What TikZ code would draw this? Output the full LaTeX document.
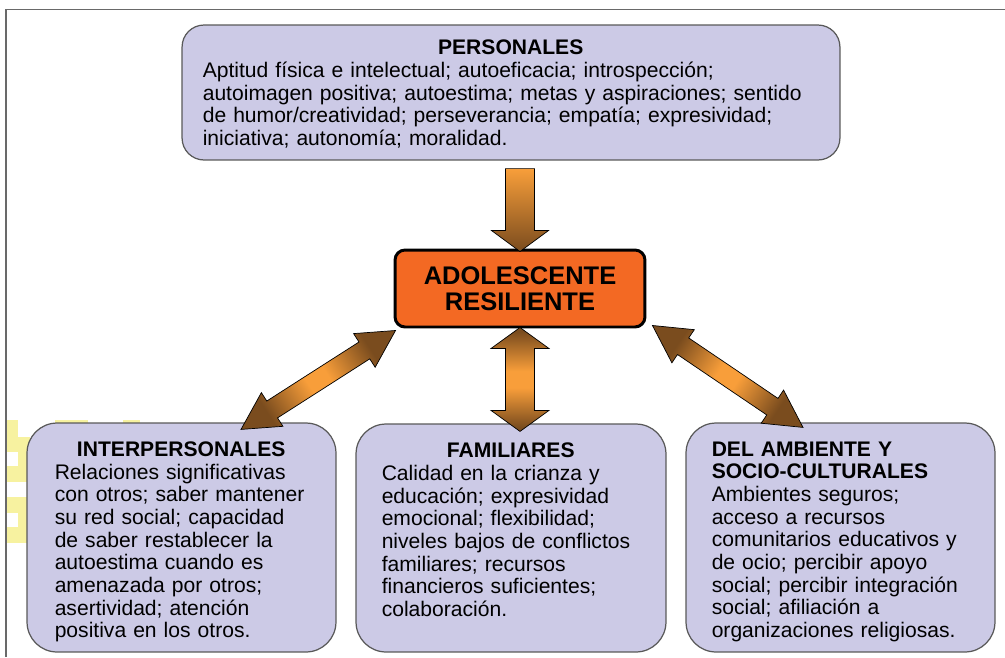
\documentclass[tikz,border=0pt]{standalone}
\usepackage{fontspec}
\setmainfont{Liberation Sans}
\usetikzlibrary{calc,positioning}

\definecolor{lila}{RGB}{204,202,230}
\definecolor{naranja}{RGB}{243,105,35}
\definecolor{flechaclaro}{RGB}{248,158,58}
\definecolor{flechaoscuro}{RGB}{122,76,30}
\definecolor{amarillo}{RGB}{247,242,160}
\definecolor{marco}{RGB}{105,105,105}

% oscuro en las puntas, claro en el medio
\pgfdeclarehorizontalshading{flechasombra}{100bp}{color(0bp)=(flechaoscuro); color(27bp)=(flechaoscuro);
  color(46bp)=(flechaclaro); color(54bp)=(flechaclaro); color(73bp)=(flechaoscuro); color(100bp)=(flechaoscuro)}

% flecha doble: #1,#2 puntas; #3 largo punta; #4 media punta; #5 medio cuerpo; #6 angulo
\newcommand{\flechadoble}[6]{%
  \shade[draw=black, line width=0.4pt, shading=flechasombra, shading angle=#6]
    (#1) -- ($(#1)!#3!(#2)!#4!90:(#2)$) -- ($(#1)!#3!(#2)!#5!90:(#2)$)
    -- ($(#2)!#3!(#1)!#5!270:(#1)$) -- ($(#2)!#3!(#1)!#4!270:(#1)$)
    -- (#2) -- ($(#2)!#3!(#1)!#4!90:(#1)$) -- ($(#2)!#3!(#1)!#5!90:(#1)$)
    -- ($(#1)!#3!(#2)!#5!270:(#2)$) -- ($(#1)!#3!(#2)!#4!270:(#2)$) -- cycle;}

\begin{document}
\begin{tikzpicture}[x=0.02cm, y=-0.02cm,
  caja/.style={draw=black!65, fill=lila, line width=0.7pt},
  texto/.style={anchor=north west, inner sep=0pt, font=\fontsize{12}{12.9}\selectfont},
  centro/.style={draw=black, fill=naranja, line width=1.7pt, rounded corners=0.2cm,
    minimum width=5cm, minimum height=1.54cm, align=center,
    font=\fontsize{14.5}{14.8}\selectfont\bfseries}]
\useasboundingbox (0,0) rectangle (1005,657);

% manchas amarillas del margen
\fill[amarillo] (7,420) rectangle (18,437);
\fill[amarillo] (7,437) rectangle (30,543);
\fill[white] (7,452) rectangle (18,466);
\fill[white] (7,482) rectangle (30,497);
\fill[white] (7,513) rectangle (18,527);
\fill[amarillo] (55,420) rectangle (88,430);
\fill[amarillo] (123,420) rectangle (140,430);

% marco
\draw[marco, line width=1pt] (6,657) -- (6,9.5) -- (1005,9.5);

% cajas
\node[caja, rounded corners=0.44cm, minimum width=13.16cm, minimum height=2.7cm] (personales) at (511,92.5) {};
\node[caja, rounded corners=0.6cm, minimum width=6.18cm, minimum height=4.58cm] (interpersonales) at (181.5,537.5) {};
\node[caja, rounded corners=0.6cm, minimum width=6.2cm, minimum height=4.56cm] (familiares) at (511,538) {};
\node[caja, rounded corners=0.6cm, minimum width=6.18cm, minimum height=4.58cm] (ambiente) at (840.5,537.5) {};

\node[texto, text width=12.32cm] (tpers) at ([shift={(21,15.5)}]personales.north west)
  {{\centering\bfseries PERSONALES\par}\raggedright
   Aptitud física e intelectual; autoeficacia; introspección;\\
   autoimagen positiva; autoestima; metas y aspiraciones; sentido\\
   de humor/creatividad; perseverancia; empatía; expresividad;\\
   iniciativa; autonomía; moralidad.};
\node[texto, text width=5.06cm] (tinter) at ([shift={(28,19)}]interpersonales.north west)
  {{\centering\bfseries INTERPERSONALES\par}\raggedright
   Relaciones significativas\\
   con otros; saber mantener\\
   su red social; capacidad\\
   de saber restablecer la\\
   autoestima cuando es\\
   amenazada por otros;\\
   asertividad; atención\\
   positiva en los otros.};
\node[texto, text width=5.16cm] (tfam) at ([shift={(26,19.5)}]familiares.north west)
  {{\centering\bfseries FAMILIARES\par}\raggedright
   Calidad en la crianza y\\
   educación; expresividad\\
   emocional; flexibilidad;\\
   niveles bajos de conflictos\\
   familiares; recursos\\
   financieros suficientes;\\
   colaboración.};
\node[texto, text width=5.16cm] (tamb) at ([shift={(26,19)}]ambiente.north west)
  {\raggedright\bfseries DEL AMBIENTE Y\\
   SOCIO-CULTURALES\par\mdseries
   Ambientes seguros;\\
   acceso a recursos\\
   comunitarios educativos y\\
   de ocio; percibir apoyo\\
   social; percibir integración\\
   social; afiliación a\\
   organizaciones religiosas.};

\node[centro] (adolescente) at (520,288.5) {ADOLESCENTE\\RESILIENTE};

% puntas de las flechas
\coordinate (c1) at ([shift={(9,8)}]personales.south);
\coordinate (c2) at ([shift={(0,3)}]adolescente.north);
\coordinate (c3) at ([shift={(0,-1)}]adolescente.south);
\coordinate (c4) at ([shift={(9,8)}]familiares.north);
\coordinate (c5) at ([shift={(2,2)}]adolescente.south west);
\coordinate (c6) at ([shift={(59.5,7)}]interpersonales.north);
\coordinate (c7) at ([shift={(6,-3)}]adolescente.south east);
\coordinate (c8) at ([shift={(-37.5,5)}]ambiente.north);

% flecha de personales
\shade[draw=black, line width=0.4pt, top color=flechaclaro, bottom color=flechaoscuro]
  (c2) -- ($(c2)!0.42cm!(c1)!0.57cm!90:(c1)$) -- ($(c2)!0.42cm!(c1)!0.29cm!90:(c1)$)
  -- ($(c1)!0.29cm!270:(c2)$) -- ($(c1)!0.29cm!90:(c2)$)
  -- ($(c2)!0.42cm!(c1)!0.29cm!270:(c1)$) -- ($(c2)!0.42cm!(c1)!0.57cm!270:(c1)$) -- cycle;

\flechadoble{c3}{c4}{0.42cm}{0.58cm}{0.29cm}{90}
\flechadoble{c5}{c6}{0.74cm}{0.4cm}{0.2cm}{33}
\flechadoble{c7}{c8}{0.74cm}{0.4cm}{0.2cm}{-34}
\end{tikzpicture}
\end{document}
